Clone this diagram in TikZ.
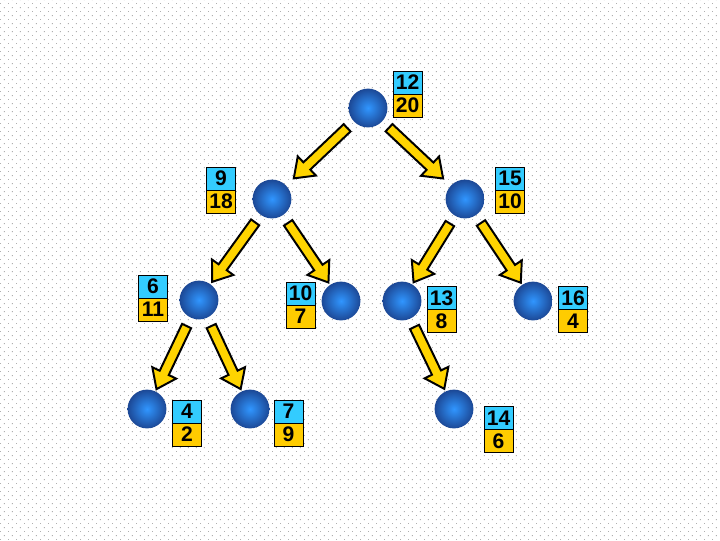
\documentclass[tikz,border=0pt]{standalone}
\usepackage{fontspec}
\newfontfamily\keyfont{Liberation Sans}
\usepackage{xcolor}
\usetikzlibrary{calc,positioning,patterns}
\definecolor{keycyan}{RGB}{51,204,255}
\definecolor{keygold}{RGB}{255,204,0}
\definecolor{arrowgold}{RGB}{255,212,0}
\definecolor{balllight}{RGB}{48,150,255}
\definecolor{balldark}{RGB}{28,72,150}
\definecolor{dotgray}{RGB}{175,175,175}
\pgfdeclarepatternformonly{bgdots}{\pgfqpoint{0pt}{0pt}}{\pgfqpoint{5.67pt}{5.67pt}}{\pgfqpoint{5.67pt}{5.67pt}}{%
  \pgfpathrectangle{\pgfqpoint{0pt}{0pt}}{\pgfqpoint{0.6pt}{0.6pt}}
  \pgfpathrectangle{\pgfqpoint{2.835pt}{2.835pt}}{\pgfqpoint{0.6pt}{0.6pt}}
  \pgfusepath{fill}}

\begin{document}
\begin{tikzpicture}[x=0.025cm,y=-0.025cm,
  ball/.style={circle,minimum size=0.97cm,inner sep=0pt,inner color=balllight,outer color=balldark},
  keytop/.style={draw,line width=0.7pt,fill=keycyan,minimum width=0.725cm,minimum height=0.575cm,
    inner sep=0pt,outer sep=0pt,font=\keyfont\bfseries\fontsize{15}{15}\selectfont},
  keybot/.style={keytop,fill=keygold},
  fatarrow/.style={fill=arrowgold,draw=black,line width=1.4pt,line join=miter}]
% background
\fill[white] (0,0) rectangle (720,540);
\fill[pattern=bgdots,pattern color=dotgray] (0,0) rectangle (720,540);
\useasboundingbox (0,0) rectangle (720,540);
% tree nodes
\node[ball] (n12) at (368,108) {};
\node[ball] (n9)  at (272,199) {};
\node[ball] (n15) at (465,199) {};
\node[ball] (n6)  at (199,300) {};
\node[ball] (n10) at (341,301) {};
\node[ball] (n13) at (402,301) {};
\node[ball] (n16) at (533,301) {};
\node[ball] (n4)  at (147,409) {};
\node[ball] (n7)  at (250,409) {};
\node[ball] (n14) at (454,409) {};
% arrows (last value: gap left before the child)
\foreach \a/\b/\g in {n12/n9/0.75cm,n12/n15/0.75cm,n9/n6/0.56cm,n9/n10/0.56cm,n15/n13/0.55cm,
    n15/n16/0.55cm,n6/n4/0.55cm,n6/n7/0.55cm,n13/n14/0.56cm}{
  \coordinate (tl) at ($(\a)!0.72cm!(\b)$);
  \coordinate (tp) at ($(\b)!\g!(\a)$);
  \coordinate (hb) at ($(tp)!0.45cm!(tl)$);
  \filldraw[fatarrow] ($(tl)!0.125cm!90:(tp)$) -- ($(hb)!0.125cm!90:(tp)$) -- ($(hb)!0.33cm!90:(tp)$)
    -- (tp) -- ($(hb)!0.33cm!-90:(tp)$) -- ($(hb)!0.125cm!-90:(tp)$) -- ($(tl)!0.125cm!-90:(tp)$) -- cycle;
}
% keys
\node[keytop] (k12) at (407.5,82.5) {12};
\node[keybot,below=0pt of k12] (k12b) {20};
\node[keytop] (k9) at (221,178.5) {9};
\node[keybot,below=0pt of k9] (k9b) {18};
\node[keytop] (k15) at (510,178.5) {15};
\node[keybot,below=0pt of k15] (k15b) {10};
\node[keytop] (k6) at (153,286.5) {6};
\node[keybot,below=0pt of k6] (k6b) {11};
\node[keytop] (k10) at (300.5,293.5) {10};
\node[keybot,below=0pt of k10] (k10b) {7};
\node[keytop] (k13) at (441.5,298) {13};
\node[keybot,below=0pt of k13] (k13b) {8};
\node[keytop] (k16) at (573,298) {16};
\node[keybot,below=0pt of k16] (k16b) {4};
\node[keytop] (k4) at (187,411.5) {4};
\node[keybot,below=0pt of k4] (k4b) {2};
\node[keytop] (k7) at (288.5,411.5) {7};
\node[keybot,below=0pt of k7] (k7b) {9};
\node[keytop] (k14) at (498.5,418) {14};
\node[keybot,below=0pt of k14] (k14b) {6};
\end{tikzpicture}
\end{document}
